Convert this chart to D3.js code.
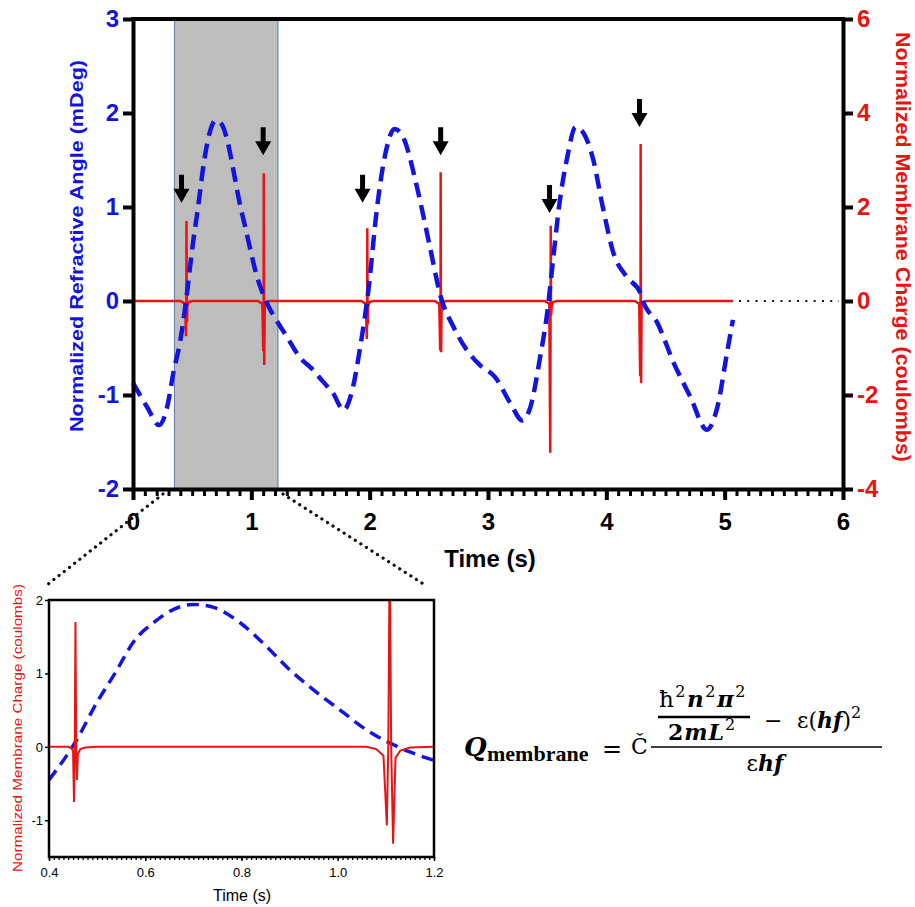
<!DOCTYPE html>
<html>
<head>
<meta charset="utf-8">
<script src="https://cdn.jsdelivr.net/npm/d3@7"></script>
<style>
  html, body { margin: 0; padding: 0; background: #fff; }
  svg { display: block; }
</style>
</head>
<body>
<div id="chart"></div>
<script>
// ---- data ----
const timeTicks = [0, 1, 2, 3, 4, 5, 6];
const angleTicks = [-2, -1, 0, 1, 2, 3];
const chargeTicks = [-4, -2, 0, 2, 4, 6];

// refractive angle (blue dashed, left axis)
const angleTime = [0.00, 0.12, 0.22, 0.29, 0.34, 0.40, 0.45, 0.50, 0.55, 0.60, 0.65, 0.70, 0.75, 0.80, 0.85, 0.90, 0.95, 1.00, 1.05, 1.10, 1.15, 1.20,
  1.30, 1.41, 1.52, 1.60, 1.69, 1.78, 1.86, 1.92, 1.99, 2.06, 2.13, 2.21, 2.28, 2.40, 2.51, 2.60, 2.71, 2.82, 2.93, 3.06, 3.19, 3.29, 3.36, 3.44, 3.50,
  3.55, 3.60, 3.67, 3.74, 3.80, 3.89, 3.97, 4.06, 4.17, 4.29, 4.31, 4.43, 4.57, 4.71, 4.85, 4.94, 5.02, 5.07];
const angleValue = [-0.87, -1.13, -1.32, -1.12, -0.77, -0.42, 0.02, 0.55, 1.00, 1.48, 1.80, 1.92, 1.88, 1.69, 1.38, 1.05, 0.78, 0.50, 0.25, 0.07, -0.07, -0.18,
  -0.38, -0.60, -0.73, -0.85, -0.98, -1.16, -0.91, -0.49, 0.12, 0.97, 1.55, 1.83, 1.75, 1.21, 0.57, 0.05, -0.28, -0.52, -0.68, -0.81, -1.09, -1.27, -1.12, -0.60, -0.13,
  0.44, 1.00, 1.53, 1.85, 1.80, 1.50, 1.00, 0.51, 0.26, 0.08, 0.00, -0.23, -0.66, -1.02, -1.37, -1.12, -0.55, -0.20];

// membrane charge spikes (red, right axis)
const spikeTime = [0.452, 1.105, 1.98, 2.60, 3.53, 4.29];
const spikeUp = [1.70, 2.72, 1.55, 2.74, 1.60, 3.34];
const spikeDownA = [-0.75, -1.07, -0.81, -1.05, -3.23, -1.60];
const spikeDownB = [-0.45, -1.36, -0.50, -1.09, -0.30, -1.75];
const chargeEnd = 5.07;

// stimulus arrows (time, tip height on charge axis)
const arrowTime = [0.41, 1.10, 1.94, 2.60, 3.52, 4.28];
const arrowTip = [2.09, 3.10, 2.09, 3.10, 1.87, 3.70];

const shadeRange = [0.35, 1.225];

// inset (zoom on 0.4 - 1.2 s)
const insetTimeTicks = [0.4, 0.6, 0.8, 1.0, 1.2];
const insetChargeTicks = [-1, 0, 1, 2];
const insetAngleTime = [0.40, 0.458, 0.499, 0.537, 0.579, 0.617, 0.658, 0.70, 0.742, 0.797, 0.853, 0.90, 0.949, 1.005, 1.06, 1.109, 1.15, 1.198];
const insetAngleValue = [-0.45, 0.10, 0.60, 1.00, 1.46, 1.69, 1.87, 1.94, 1.90, 1.69, 1.36, 1.05, 0.78, 0.50, 0.23, 0.05, -0.07, -0.18];
const insetChargeTime = [0.40, 0.44, 0.447, 0.450, 0.452, 0.4535, 0.455, 0.4565, 0.458, 0.460, 0.465, 0.475, 0.50,
  1.06, 1.08, 1.095, 1.102, 1.105, 1.108, 1.111, 1.115, 1.12, 1.13, 1.15, 1.20];
const insetChargeValue = [0, 0, -0.02, -0.06, -0.75, 0.0, 1.70, 0.0, -0.45, -0.10, -0.03, -0.01, 0,
  0, -0.03, -0.12, -1.07, 0, 2.72, 0, -1.32, -0.15, -0.05, -0.01, 0];

// ---- layout ----
const W = 915, H = 907;
const BLUE = '#1414e0', RED = '#e81414';
const main = { left: 133, right: 843, top: 19, bottom: 489 };
const inset = { left: 49, right: 434, top: 600, bottom: 857 };
const plain = d => String(d);  // hyphen minus, like the original

const svg = d3.select('#chart').append('svg')
  .attr('width', W).attr('height', H)
  .attr('viewBox', [0, 0, W, H]);

const x = d3.scaleLinear().domain([0, 6]).range([main.left, main.right]);
const yL = d3.scaleLinear().domain([-2, 3]).range([main.bottom, main.top]);
const yR = d3.scaleLinear().domain([-4, 6]).range([main.bottom, main.top]);

// shaded window
svg.append('rect')
  .attr('x', x(shadeRange[0]))
  .attr('y', main.top)
  .attr('width', x(shadeRange[1]) - x(shadeRange[0]))
  .attr('height', main.bottom - main.top)
  .attr('fill', '#bdbdbd')
  .attr('stroke', '#5b78a8')
  .attr('stroke-width', 1);

// red charge trace built from the spike readings
const chargePts = [[0, 0]];
spikeTime.forEach((t, i) => {
  chargePts.push([t - 0.05, 0], [t - 0.012, -0.06], [t - 0.004, spikeDownA[i]], [t - 0.001, 0],
    [t, spikeUp[i]], [t + 0.002, 0], [t + 0.004, spikeDownB[i]], [t + 0.008, -0.1], [t + 0.02, -0.02], [t + 0.05, 0]);
});
chargePts.push([chargeEnd, 0]);

svg.append('path')
  .datum(chargePts)
  .attr('d', d3.line().x(d => x(d[0])).y(d => yR(d[1])))
  .attr('fill', 'none')
  .attr('stroke', RED)
  .attr('stroke-width', 2.5);

// dotted continuation of the baseline
svg.append('line')
  .attr('x1', x(chargeEnd) + 6).attr('x2', x(6) - 4)
  .attr('y1', yR(0)).attr('y2', yR(0))
  .attr('stroke', '#111')
  .attr('stroke-width', 2)
  .attr('stroke-dasharray', '2 6.3');

// blue dashed angle curve
svg.append('path')
  .datum(angleTime.map((t, i) => [t, angleValue[i]]))
  .attr('d', d3.line().x(d => x(d[0])).y(d => yL(d[1])).curve(d3.curveMonotoneX))
  .attr('fill', 'none')
  .attr('stroke', BLUE)
  .attr('stroke-width', 4.5)
  .attr('stroke-dasharray', '15 8');

// arrows
svg.append('g')
  .selectAll('path')
  .data(arrowTime.map((t, i) => ({ t, v: arrowTip[i] })))
  .join('path')
  .attr('transform', d => `translate(${x(d.t)},${yR(d.v)})`)
  .attr('d', 'M0,0 L-8,-14 L-2.5,-14 L-2.5,-28 L2.5,-28 L2.5,-14 L8,-14 Z')
  .attr('fill', '#000');

// axes
function styleAxis(g, color, size, weight) {
  g.select('.domain').attr('stroke', '#000').attr('stroke-width', 4);
  g.selectAll('.tick line').attr('stroke', '#000').attr('stroke-width', 4);
  g.selectAll('.tick text')
    .attr('fill', color)
    .style('font-family', "'Liberation Sans', Arial, sans-serif")
    .style('font-size', size + 'px')
    .style('font-weight', weight);
}

// top frame line
svg.append('line')
  .attr('x1', main.left - 2).attr('x2', main.right + 2)
  .attr('y1', main.top).attr('y2', main.top)
  .attr('stroke', '#000').attr('stroke-width', 4);

// minor x ticks
svg.append('g')
  .attr('transform', `translate(0,${main.bottom})`)
  .call(d3.axisBottom(x).tickValues(d3.range(0, 60).map(i => i / 10)).tickSize(7).tickFormat(''))
  .call(g => g.select('.domain').remove())
  .call(g => g.selectAll('.tick line').attr('stroke', '#000').attr('stroke-width', 3));

svg.append('g')
  .attr('transform', `translate(0,${main.bottom})`)
  .call(d3.axisBottom(x).tickValues(timeTicks).tickSize(11).tickSizeOuter(0).tickPadding(13).tickFormat(plain))
  .call(g => styleAxis(g, '#000', 24, 'bold'));

svg.append('g')
  .attr('transform', `translate(${main.left},0)`)
  .call(d3.axisLeft(yL).tickValues(angleTicks).tickSize(10).tickSizeOuter(0).tickPadding(4).tickFormat(plain))
  .call(g => styleAxis(g, BLUE, 24, 'bold'));

svg.append('g')
  .attr('transform', `translate(${main.right},0)`)
  .call(d3.axisRight(yR).tickValues(chargeTicks).tickSize(10).tickSizeOuter(0).tickPadding(4).tickFormat(plain))
  .call(g => styleAxis(g, RED, 24, 'bold'));

// axis titles
const sans = "'Liberation Sans', Arial, sans-serif";
svg.append('text')
  .attr('transform', 'translate(83,246) rotate(-90)')
  .attr('text-anchor', 'middle')
  .attr('fill', BLUE)
  .attr('textLength', 372).attr('lengthAdjust', 'spacingAndGlyphs')
  .style('font-family', sans).style('font-size', '19px').style('font-weight', 'bold')
  .text('Normalized Refractive Angle (mDeg)');

svg.append('text')
  .attr('transform', 'translate(896,247) rotate(90)')
  .attr('text-anchor', 'middle')
  .attr('fill', RED)
  .attr('textLength', 430).attr('lengthAdjust', 'spacingAndGlyphs')
  .style('font-family', sans).style('font-size', '20px').style('font-weight', 'bold')
  .text('Normalized Membrane Charge (coulombs)');

svg.append('text')
  .attr('x', 490).attr('y', 567)
  .attr('text-anchor', 'middle')
  .attr('fill', '#000')
  .style('font-family', sans).style('font-size', '24px').style('font-weight', 'bold')
  .text('Time (s)');

// dotted connectors to the inset
[[163, 494, 47, 585], [283, 494, 425, 585]].forEach(c => {
  svg.append('line')
    .attr('x1', c[0]).attr('y1', c[1]).attr('x2', c[2]).attr('y2', c[3])
    .attr('stroke', '#111')
    .attr('stroke-width', 3.2)
    .attr('stroke-linecap', 'round')
    .attr('stroke-dasharray', '0.1 6.5');
});

// ---- inset ----
const xi = d3.scaleLinear().domain([0.4, 1.2]).range([inset.left, inset.right]);
const yi = d3.scaleLinear().domain([-1.5, 2]).range([inset.bottom, inset.top]);

svg.append('clipPath').attr('id', 'insetClip')
  .append('rect')
  .attr('x', inset.left).attr('y', inset.top)
  .attr('width', inset.right - inset.left).attr('height', inset.bottom - inset.top);

const ig = svg.append('g').attr('clip-path', 'url(#insetClip)');

ig.append('path')
  .datum(insetAngleTime.map((t, i) => [t, insetAngleValue[i]]))
  .attr('d', d3.line().x(d => xi(d[0])).y(d => yi(d[1])).curve(d3.curveMonotoneX))
  .attr('fill', 'none')
  .attr('stroke', BLUE)
  .attr('stroke-width', 3.5)
  .attr('stroke-dasharray', '12 7');

ig.append('path')
  .datum(insetChargeTime.map((t, i) => [t, insetChargeValue[i]]))
  .attr('d', d3.line().x(d => xi(d[0])).y(d => yi(d[1])))
  .attr('fill', 'none')
  .attr('stroke', RED)
  .attr('stroke-width', 2);

// inset frame
svg.append('rect')
  .attr('x', inset.left).attr('y', inset.top)
  .attr('width', inset.right - inset.left).attr('height', inset.bottom - inset.top)
  .attr('fill', 'none')
  .attr('stroke', '#000')
  .attr('stroke-width', 2.5);

function styleInsetAxis(g) {
  g.select('.domain').remove();
  g.selectAll('.tick line').attr('stroke', '#000').attr('stroke-width', 1.5);
  g.selectAll('.tick text')
    .attr('fill', '#000')
    .style('font-family', sans)
    .style('font-size', '13px');
}

svg.append('g')
  .attr('transform', `translate(0,${inset.bottom})`)
  .call(d3.axisBottom(xi).tickValues(d3.range(40, 121).map(i => i / 100)).tickSize(3).tickFormat(''))
  .call(g => g.select('.domain').remove())
  .call(g => g.selectAll('.tick line').attr('stroke', '#000').attr('stroke-width', 1.3));

svg.append('g')
  .attr('transform', `translate(0,${inset.bottom})`)
  .call(d3.axisBottom(xi).tickValues(insetTimeTicks).tickSize(4).tickPadding(7).tickFormat(d3.format('.1f')))
  .call(styleInsetAxis);

svg.append('g')
  .attr('transform', `translate(${inset.left},0)`)
  .call(d3.axisLeft(yi).tickValues(insetChargeTicks).tickSize(4).tickPadding(2).tickFormat(plain))
  .call(styleInsetAxis);

svg.append('text')
  .attr('transform', 'translate(22,728) rotate(-90)')
  .attr('text-anchor', 'middle')
  .attr('fill', RED)
  .attr('textLength', 288).attr('lengthAdjust', 'spacingAndGlyphs')
  .style('font-family', sans).style('font-size', '13px')
  .text('Normalized Membrane Charge (coulombs)');

svg.append('text')
  .attr('x', 242).attr('y', 901)
  .attr('text-anchor', 'middle')
  .attr('fill', '#000')
  .style('font-family', sans).style('font-size', '16px')
  .text('Time (s)');

// ---- formula ----
const serif = "'DejaVu Serif', 'Liberation Serif', serif";
const f = svg.append('g').attr('fill', '#000').style('font-family', serif);

f.append('text').attr('x', 464).attr('y', 756)
  .style('font-size', '26px').style('font-weight', 'bold').style('font-style', 'italic')
  .text('Q');
f.append('text').attr('x', 487).attr('y', 761)
  .style('font-family', "'Liberation Serif', serif")
  .style('font-size', '22px').style('font-weight', 'bold')
  .text('membrane');
f.append('text').attr('x', 602).attr('y', 757)
  .style('font-size', '24px')
  .text('=');
f.append('text').attr('x', 631).attr('y', 754)
  .style('font-size', '22px')
  .text('Č');

// main fraction bar
f.append('line').attr('x1', 651).attr('x2', 882).attr('y1', 747).attr('y2', 747)
  .attr('stroke', '#000').attr('stroke-width', 1.5);
// inner fraction bar
f.append('line').attr('x1', 658).attr('x2', 750).attr('y1', 717).attr('y2', 717)
  .attr('stroke', '#000').attr('stroke-width', 2.5);

function sup(t, s) {
  t.append('tspan').attr('dy', -10).style('font-size', '16px').style('font-weight', 'normal').style('font-style', 'normal').text(s);
}
function term(t, s, bold) {
  t.append('tspan').attr('dy', 10)
    .style('font-weight', bold ? 'bold' : 'normal')
    .style('font-style', bold ? 'italic' : 'normal')
    .text(s);
}

const num = f.append('text').attr('x', 659).attr('y', 707)
  .style('font-size', '23px').style('letter-spacing', '1.5px');
num.append('tspan').text('ħ');
sup(num, '2'); term(num, 'n', true); sup(num, '2'); term(num, 'π', true); sup(num, '2');

const den = f.append('text').attr('x', 668).attr('y', 740)
  .style('font-size', '22px').style('font-weight', 'bold').style('letter-spacing', '1px');
den.append('tspan').text('2');
den.append('tspan').style('font-style', 'italic').text('mL');
sup(den, '2');

f.append('text').attr('x', 764).attr('y', 728).style('font-size', '22px').text('−');

const rhs = f.append('text').attr('x', 797).attr('y', 728).style('font-size', '22px');
rhs.append('tspan').text('ε(');
rhs.append('tspan').style('font-weight', 'bold').style('font-style', 'italic').text('hf');
rhs.append('tspan').text(')');
sup(rhs, '2');

const bottom = f.append('text').attr('x', 765).attr('y', 771).attr('text-anchor', 'middle').style('font-size', '22px');
bottom.append('tspan').text('ε');
bottom.append('tspan').style('font-weight', 'bold').style('font-style', 'italic').text('hf');
</script>
</body>
</html>
